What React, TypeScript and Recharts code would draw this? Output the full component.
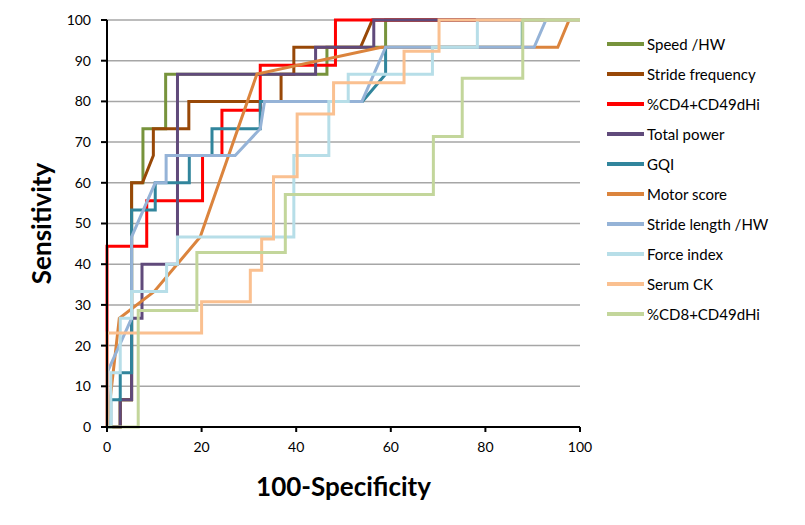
import React from 'react';
import { LineChart, Line, XAxis, YAxis, CartesianGrid, Legend } from 'recharts';

// ROC curves: [100-Specificity, Sensitivity]
const speedHW = [[0,0],[2.8,0],[2.8,6.7],[5.2,6.7],[5.2,60],[7.6,60],[7.6,73.3],[12.4,73.3],[12.4,86.7],[46.5,86.7],[46.5,93.3],[58.9,93.3],[58.9,100],[100,100]];
const strideFrequency = [[0,0],[2.8,0],[2.8,6.7],[5.2,6.7],[5.2,60],[7.5,60],[9.8,66.7],[9.8,73.3],[17.3,73.3],[17.3,80],[36.8,80],[36.8,86.7],[39.5,86.7],[39.5,93.3],[53.6,93.3],[56.1,100],[100,100]];
const cd4 = [[0,0],[0,44.4],[8.4,44.4],[8.4,55.6],[20.2,55.6],[20.2,66.7],[24.3,66.7],[24.3,77.8],[32.4,77.8],[32.4,88.9],[48.3,88.9],[48.3,100],[100,100]];
const totalPower = [[0,0],[2.8,0],[2.8,6.7],[5.2,6.7],[5.2,26.7],[7.4,26.7],[7.4,40],[14.9,40],[14.9,86.7],[44.1,86.7],[44.1,93.3],[56.4,93.3],[56.4,100],[100,100]];
const gqi = [[0,0],[0.8,0],[0.8,6.7],[2.8,6.7],[2.8,13.3],[5.2,13.3],[5.2,53.3],[10.2,53.3],[10.2,60],[17.4,60],[17.4,66.7],[22.2,66.7],[22.2,73.3],[32.4,73.3],[32.4,80],[54,80],[58.9,86.7],[58.9,93.3],[87.8,93.3],[87.8,100],[100,100]];
const motorScore = [[0,0],[2.6,26.7],[10,33.3],[19.7,46.7],[31.7,86.7],[58,93.3],[95.3,93.3],[97.7,100],[100,100]];
const strideLengthHW = [[0,0],[0,13.3],[5.2,26.7],[5.2,46.7],[10.2,60],[12.5,60],[12.5,66.7],[27.1,66.7],[32.4,73.3],[33.3,80],[53.9,80],[58.9,93.3],[90.3,93.3],[92.8,100],[100,100]];
const forceIndex = [[0,0],[0.8,0],[0.8,13.3],[2.8,13.3],[2.8,26.7],[5.2,26.7],[5.2,33.3],[12.6,33.3],[12.6,40],[14.9,40],[14.9,46.7],[39.5,46.7],[39.5,66.7],[46.9,66.7],[46.9,80],[51,80],[51,86.7],[68.8,86.7],[68.8,93.3],[78.3,93.3],[78.3,100],[100,100]];
const serumCK = [[0,0],[0,23.1],[20,23.1],[20,30.8],[30.3,30.8],[30.3,38.5],[32.7,38.5],[32.7,46.2],[35.2,46.2],[35.2,61.5],[40.2,61.5],[40.2,76.9],[47.9,76.9],[47.9,84.6],[62.8,84.6],[62.8,92.3],[70.2,92.3],[70.2,100],[100,100]];
const cd8 = [[0,0],[6.6,0],[6.6,28.6],[19,28.6],[19,42.9],[37.7,42.9],[37.7,57.1],[69,57.1],[69,71.4],[75.1,71.4],[75.1,85.7],[87.9,85.7],[87.9,100],[100,100]];

const seriesNames = ['Speed /HW','Stride frequency','%CD4+CD49dHi','Total power','GQI','Motor score','Stride length /HW','Force index','Serum CK','%CD8+CD49dHi'];
const seriesData = [speedHW, strideFrequency, cd4, totalPower, gqi, motorScore, strideLengthHW, forceIndex, serumCK, cd8];
const seriesColors = ['#77933C','#984807','#FF0000','#604A7B','#31859C','#DB843D','#95B3D7','#B7DEE8','#FAC090','#C3D69B'];

const xTicks = [0, 20, 40, 60, 80, 100];
const yTicks = [0, 10, 20, 30, 40, 50, 60, 70, 80, 90, 100];

const FONT = 'Lato, "Open Sans", sans-serif';

const LegendContent = (props: any) => {
  const payload = [...(props.payload || [])].sort(
    (a: any, b: any) => seriesNames.indexOf(a.value) - seriesNames.indexOf(b.value)
  );
  return (
    <div style={{ width: 190, paddingLeft: 27, paddingTop: 9, boxSizing: 'border-box', fontFamily: FONT }}>
      {payload.map((p: any, i: number) => (
        <div key={i} style={{ height: 30, display: 'flex', alignItems: 'center' }}>
          <svg width={37} height={6} style={{ display: 'block' }}>
            <line x1={0} y1={3} x2={37} y2={3} stroke={p.color} strokeWidth={4} />
          </svg>
          <span style={{ marginLeft: 3, fontSize: 15, color: '#000', whiteSpace: 'nowrap' }}>{p.value}</span>
        </div>
      ))}
    </div>
  );
};

export default function App() {
  return (
    <div style={{ width: 797, height: 517 }}>
      <LineChart width={797} height={517} margin={{ top: 12, right: 35, left: 0, bottom: 23 }}>
        <CartesianGrid horizontal vertical={false} stroke="#A6A6A6" strokeWidth={1.5} />
        <XAxis
          type="number"
          dataKey="x"
          domain={[0, 100]}
          ticks={xTicks}
          allowDuplicatedCategory={false}
          height={75}
          stroke="#000"
          strokeWidth={2}
          tickSize={5}
          tickMargin={10}
          tick={{ fill: '#000', fontSize: 14, fontFamily: FONT }}
          label={{ value: '100-Specificity', position: 'insideBottom', offset: 6, style: { fill: '#000', fontSize: 26, fontWeight: 'bold', fontFamily: FONT } }}
        />
        <YAxis
          type="number"
          dataKey="y"
          domain={[0, 100]}
          ticks={yTicks}
          width={99}
          stroke="#000"
          strokeWidth={2}
          tickSize={6}
          tickMargin={10}
          tick={{ fill: '#000', fontSize: 14, fontFamily: FONT }}
          label={{ value: 'Sensitivity', angle: -90, position: 'insideLeft', offset: 34, style: { textAnchor: 'middle', fill: '#000', fontSize: 26, fontWeight: 'bold', fontFamily: FONT } }}
        />
        <Legend layout="vertical" align="right" verticalAlign="top" content={LegendContent} />
        {seriesData.map((s, i) => (
          <Line
            key={seriesNames[i]}
            name={seriesNames[i]}
            data={s.map(([x, y]) => ({ x, y }))}
            dataKey="y"
            type="linear"
            stroke={seriesColors[i]}
            strokeWidth={3}
            dot={false}
            activeDot={false}
            isAnimationActive={false}
          />
        ))}
      </LineChart>
    </div>
  );
}
